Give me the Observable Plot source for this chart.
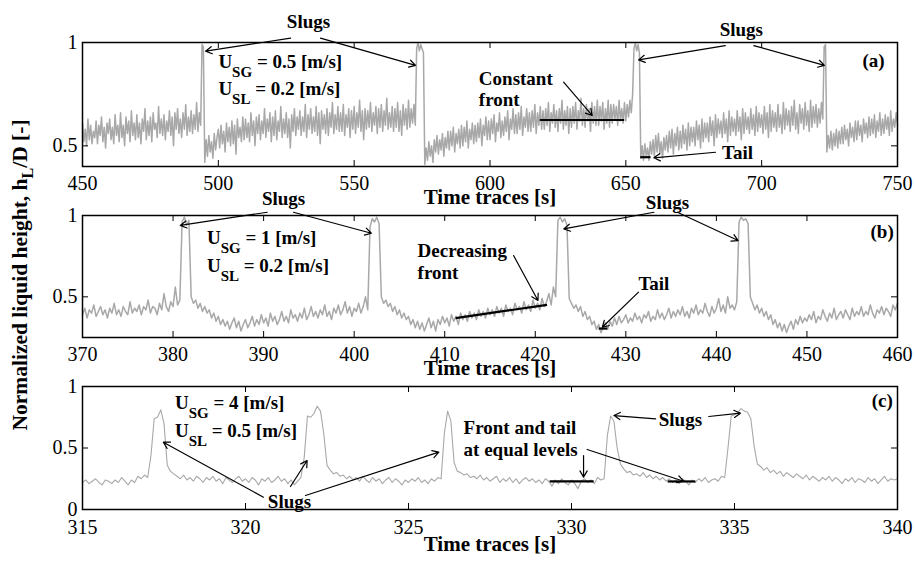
<!DOCTYPE html>
<html>
<head>
<meta charset="utf-8">
<script src="https://cdn.jsdelivr.net/npm/d3@7"></script>
<script src="https://cdn.jsdelivr.net/npm/@observablehq/plot@0.6"></script>
<style>
  body { margin: 0; background: #fff; }
  #chart { position: relative; width: 915px; height: 562px; overflow: hidden; font-family: "Liberation Serif", "DejaVu Serif", serif; }
  #chart svg { position: absolute; left: 0; overflow: visible; }
  #chart svg, #chart svg text, #chart svg tspan { font-family: "Liberation Serif", "DejaVu Serif", serif !important; }
</style>
</head>
<body>
<div id="chart"></div>
<script>
// ---------------- DATA ----------------
// Panel (a): U_SG = 0.5, U_SL = 0.2, samples every 0.5 s from 450 s
const startA = 450, stepA = 0.5;
const valuesA = [
  0.61,0.52,0.58,0.50,0.63,0.53,0.60,0.51,0.57,0.54,
  0.62,0.51,0.60,0.55,0.64,0.52,0.59,0.49,0.61,0.56,
  0.63,0.53,0.59,0.51,0.65,0.55,0.60,0.52,0.66,0.54,
  0.60,0.50,0.64,0.56,0.62,0.52,0.67,0.55,0.61,0.53,
  0.65,0.54,0.61,0.51,0.63,0.57,0.68,0.53,0.62,0.55,
  0.64,0.52,0.66,0.58,0.61,0.54,0.69,0.56,0.63,0.55,
  0.65,0.53,0.62,0.57,0.67,0.55,0.64,0.50,0.66,0.58,
  0.68,0.56,0.63,0.54,0.66,0.58,0.70,0.55,0.64,0.57,
  0.67,0.56,0.65,0.58,0.71,0.57,0.66,0.60,
  0.99,0.98,0.42,
  0.53,0.45,0.55,0.47,0.52,0.44,0.56,0.48,0.54,
  0.58,0.49,0.60,0.51,0.57,0.47,0.61,0.52,0.59,0.50,
  0.62,0.51,0.60,0.46,0.63,0.54,0.59,0.52,0.64,0.53,
  0.63,0.54,0.61,0.52,0.66,0.55,0.62,0.50,0.64,0.56,
  0.65,0.53,0.62,0.56,0.68,0.54,0.63,0.57,0.66,0.52,
  0.64,0.55,0.67,0.53,0.62,0.57,0.69,0.54,0.63,0.56,
  0.66,0.54,0.63,0.49,0.65,0.57,0.68,0.55,0.64,0.58,
  0.67,0.55,0.64,0.57,0.70,0.54,0.65,0.58,0.68,0.56,
  0.64,0.57,0.69,0.55,0.66,0.51,0.67,0.58,0.65,0.56,
  0.68,0.55,0.66,0.59,0.71,0.56,0.65,0.58,0.69,0.57,
  0.66,0.57,0.70,0.55,0.65,0.59,0.68,0.54,0.67,0.58,
  0.69,0.56,0.66,0.59,0.72,0.57,0.67,0.53,0.68,0.58,
  0.67,0.59,0.71,0.57,0.66,0.60,0.69,0.56,0.68,0.59,
  0.70,0.57,0.67,0.60,0.73,0.58,0.66,0.59,0.69,0.57,
  0.68,0.59,0.71,0.57,0.67,0.55,0.70,0.60,0.68,0.58,
  0.72,0.59,0.68,0.61,0.70,0.60,
  0.97,1.00,0.96,0.99,0.97,0.95,
  0.41,0.49,0.43,0.52,0.45,0.50,0.42,0.53,
  0.47,0.55,0.46,0.53,0.48,0.56,0.45,0.54,0.49,0.57,
  0.48,0.57,0.50,0.59,0.47,0.56,0.51,0.58,0.49,0.60,
  0.50,0.59,0.52,0.62,0.49,0.58,0.53,0.61,0.51,0.60,
  0.52,0.61,0.54,0.63,0.50,0.60,0.55,0.64,0.53,0.62,
  0.53,0.63,0.56,0.65,0.52,0.61,0.57,0.66,0.54,0.62,
  0.55,0.64,0.57,0.67,0.53,0.63,0.58,0.68,0.56,0.65,
  0.56,0.66,0.58,0.69,0.55,0.64,0.59,0.68,0.57,0.66,
  0.57,0.67,0.59,0.70,0.56,0.66,0.60,0.69,0.58,0.67,
  0.58,0.68,0.60,0.71,0.57,0.66,0.61,0.70,0.59,0.67,
  0.57,0.68,0.61,0.72,0.58,0.67,0.60,0.69,0.56,0.68,
  0.59,0.69,0.61,0.71,0.58,0.67,0.62,0.73,0.60,0.68,
  0.59,0.70,0.62,0.68,0.57,0.71,0.61,0.69,0.60,0.72,
  0.60,0.69,0.62,0.71,0.58,0.68,0.61,0.72,0.59,0.70,
  0.61,0.70,0.63,0.69,0.60,0.72,0.62,0.68,0.61,0.71,
  0.62,0.70,0.64,0.72,0.66,
  0.75,
  0.97,1.00,0.96,0.99,0.95,
  0.44,0.50,0.43,0.51,0.45,0.49,0.43,0.52,0.46,
  0.53,0.45,0.55,0.47,0.56,0.46,0.52,0.44,0.54,0.48,
  0.55,0.47,0.57,0.49,0.58,0.46,0.56,0.50,0.59,0.48,
  0.57,0.49,0.60,0.51,0.58,0.48,0.61,0.50,0.59,0.52,
  0.59,0.50,0.62,0.53,0.60,0.49,0.63,0.52,0.61,0.54,
  0.61,0.52,0.64,0.55,0.62,0.50,0.65,0.54,0.63,0.56,
  0.62,0.54,0.66,0.56,0.63,0.52,0.67,0.55,0.64,0.57,
  0.63,0.55,0.67,0.57,0.64,0.53,0.68,0.56,0.66,0.58,
  0.64,0.56,0.68,0.58,0.65,0.55,0.69,0.57,0.66,0.59,
  0.65,0.56,0.69,0.58,0.66,0.54,0.70,0.57,0.67,0.59,
  0.66,0.57,0.70,0.59,0.65,0.56,0.71,0.58,0.68,0.60,
  0.67,0.57,0.69,0.60,0.72,0.58,0.66,0.56,0.70,0.61,
  0.68,0.58,0.71,0.60,0.67,0.57,0.72,0.59,0.69,0.61,
  0.70,0.59,0.68,0.61,0.71,0.63,
  0.98,0.99,
  0.47,0.55,0.49,0.57,0.48,0.56,0.50,0.58,0.49,0.57,0.51,0.59,
  0.51,0.60,0.53,0.58,0.50,0.61,0.54,0.59,0.52,0.62,
  0.53,0.62,0.55,0.60,0.52,0.63,0.56,0.61,0.54,0.64,
  0.55,0.63,0.56,0.65,0.54,0.62,0.57,0.66,0.55,0.63,
  0.56,0.65,0.58,0.64,0.55,0.67,0.57,0.63,0.59,0.66,
  0.60
];

// Panel (b): U_SG = 1, U_SL = 0.2, samples every 0.25 s from 370 s
const startB = 370, stepB = 0.25;
const valuesB = [
  0.39,0.43,0.37,0.42,0.40,0.45,0.38,0.41,
  0.44,0.39,0.42,0.37,0.43,0.40,0.46,0.39,
  0.42,0.38,0.44,0.41,0.39,0.47,0.40,0.43,
  0.41,0.45,0.39,0.44,0.42,0.48,0.40,0.44,
  0.43,0.39,0.46,0.42,0.52,0.44,0.41,0.47,
  0.44,0.56,0.45,0.48,0.96,0.99,0.94,0.97,
  0.50,0.46,0.48,0.43,0.46,0.41,0.44,0.40,
  0.42,0.37,0.40,0.35,0.38,0.33,0.36,0.32,
  0.35,0.30,0.34,0.37,0.31,0.35,0.29,0.33,
  0.36,0.31,0.34,0.38,0.32,0.36,0.33,0.39,
  0.34,0.37,0.32,0.40,0.35,0.38,0.33,0.36,
  0.41,0.35,0.38,0.34,0.42,0.37,0.39,0.35,
  0.40,0.37,0.43,0.36,0.39,0.44,0.38,0.41,
  0.37,0.42,0.39,0.45,0.38,0.41,0.36,0.43,
  0.40,0.45,0.39,0.42,0.47,0.40,0.44,0.38,
  0.43,0.41,0.46,0.40,0.44,0.50,0.42,0.93,
  0.98,0.96,0.99,0.95,0.50,0.46,0.48,0.44,
  0.46,0.41,0.44,0.39,0.42,0.37,0.40,0.36,
  0.38,0.33,0.36,0.31,0.35,0.30,0.34,0.29,
  0.33,0.37,0.31,0.35,0.29,0.36,0.33,0.38,
  0.34,0.37,0.32,0.39,0.35,0.38,0.33,0.40,
  0.36,0.39,0.35,0.41,0.37,0.40,0.36,0.42,
  0.38,0.41,0.37,0.43,0.39,0.42,0.38,0.44,
  0.40,0.43,0.38,0.45,0.41,0.43,0.39,0.46,
  0.42,0.44,0.40,0.47,0.42,0.45,0.41,0.48,
  0.43,0.46,0.42,0.49,0.44,0.47,0.52,0.45,
  0.56,0.50,0.97,0.99,0.96,0.98,0.94,0.49,
  0.46,0.43,0.45,0.41,0.44,0.38,0.41,0.36,
  0.38,0.33,0.35,0.30,0.33,0.28,0.31,0.34,
  0.30,0.35,0.32,0.37,0.33,0.38,0.34,0.36,
  0.39,0.34,0.37,0.35,0.40,0.36,0.38,0.34,
  0.39,0.37,0.41,0.35,0.38,0.36,0.42,0.37,
  0.40,0.36,0.39,0.43,0.37,0.41,0.38,0.42,
  0.39,0.44,0.38,0.41,0.37,0.43,0.40,0.45,
  0.39,0.42,0.40,0.46,0.41,0.38,0.44,0.40,
  0.43,0.49,0.41,0.45,0.40,0.50,0.43,0.45,
  0.42,0.47,0.96,0.99,0.97,0.98,0.95,0.50,
  0.46,0.42,0.45,0.40,0.43,0.38,0.41,0.36,
  0.39,0.33,0.36,0.31,0.34,0.29,0.33,0.28,
  0.32,0.35,0.30,0.36,0.33,0.38,0.34,0.37,
  0.35,0.39,0.36,0.41,0.34,0.38,0.36,0.42,
  0.38,0.35,0.40,0.37,0.43,0.36,0.39,0.41,
  0.37,0.42,0.39,0.36,0.43,0.38,0.41,0.39,
  0.44,0.38,0.41,0.39,0.45,0.40,0.37,0.42,
  0.40,0.44,0.39,0.43,0.41,0.38,0.45,0.42,
  0.46
];

// Panel (c): U_SG = 4, U_SL = 0.5, samples every 0.1 s from 315 s
const startC = 315, stepC = 0.1;
const valuesC = [
  0.22,0.24,0.21,0.23,0.25,0.22,0.20,0.24,0.23,0.21,
  0.24,0.22,0.26,0.23,0.20,0.24,0.22,0.27,0.25,0.28,
  0.26,0.44,0.74,0.75,0.81,0.70,0.36,0.31,0.29,0.27,
  0.25,0.28,0.24,0.26,0.23,0.27,0.25,0.22,0.26,0.24,
  0.27,0.23,0.25,0.21,0.26,0.24,0.22,0.25,0.27,0.23,
  0.25,0.22,0.26,0.24,0.20,0.25,0.23,0.26,0.22,0.24,
  0.27,0.23,0.25,0.21,0.24,0.20,0.23,0.26,0.42,0.76,
  0.75,0.78,0.84,0.80,0.62,0.36,0.32,0.29,0.30,0.27,
  0.28,0.25,0.27,0.24,0.26,0.23,0.27,0.24,0.22,0.26,
  0.23,0.25,0.21,0.24,0.26,0.22,0.25,0.23,0.20,0.24,
  0.22,0.25,0.23,0.26,0.22,0.24,0.21,0.25,0.23,0.26,
  0.25,0.62,0.80,0.72,0.38,0.31,0.30,0.28,0.29,0.26,
  0.27,0.25,0.28,0.24,0.26,0.23,0.25,0.27,0.22,0.25,
  0.23,0.26,0.22,0.25,0.21,0.24,0.26,0.23,0.25,0.22,
  0.24,0.21,0.25,0.23,0.19,0.24,0.21,0.25,0.22,0.20,
  0.24,0.21,0.17,0.23,0.25,0.22,0.24,0.21,0.26,0.24,
  0.25,0.60,0.76,0.72,0.50,0.37,0.33,0.30,0.31,0.28,
  0.29,0.27,0.30,0.26,0.28,0.25,0.27,0.24,0.26,0.23,
  0.25,0.22,0.24,0.21,0.25,0.23,0.20,0.24,0.22,0.25,
  0.23,0.26,0.22,0.24,0.25,0.23,0.27,0.26,0.50,0.76,
  0.77,0.79,0.82,0.80,0.79,0.74,0.52,0.37,0.35,0.32,
  0.34,0.30,0.32,0.29,0.31,0.27,0.30,0.28,0.26,0.29,
  0.27,0.25,0.28,0.24,0.27,0.25,0.23,0.26,0.24,0.27,
  0.23,0.26,0.24,0.21,0.25,0.23,0.26,0.22,0.25,0.24,
  0.22,0.26,0.23,0.25,0.21,0.24,0.27,0.23,0.25,0.24,
  0.25
];

// Axis ticks
const xTicksA = [450, 500, 550, 600, 650, 700, 750];
const yTicksA = [0.5, 1];
const xTicksB = [370, 380, 390, 400, 410, 420, 430, 440, 450, 460];
const yTicksB = [0.5, 1];
const xTicksC = [315, 320, 325, 330, 335, 340];
const yTicksC = [0, 0.5, 1];

// Annotations (data coordinates: time, normalized height)
const labelsA = [
  {t: 533.2, v: 1.106, text: "Slugs", anchor: "middle"},
  {t: 692.5, v: 1.063, text: "Slugs", anchor: "middle"},
  {t: 595.9, v: 0.777, text: "Constant\nfront", anchor: "start"},
  {t: 685.4, v: 0.469, text: "Tail", anchor: "start"},
  {t: 741.2, v: 0.913, text: "(a)", anchor: "middle"}
];
const arrowsA = [
  {t1: 526.6, v1: 1.021, t2: 495.3, v2: 0.958},
  {t1: 537.6, v1: 1.021, t2: 572.6, v2: 0.889},
  {t1: 686.6, v1: 0.985, t2: 654.7, v2: 0.916},
  {t1: 697.1, v1: 0.985, t2: 723.1, v2: 0.889},
  {t1: 627.1, v1: 0.808, t2: 637.6, v2: 0.647},
  {t1: 683.0, v1: 0.469, t2: 660.3, v2: 0.442}
];
const levelsA = [
  {t1: 618.3, v1: 0.625, t2: 649.4, v2: 0.625},
  {t1: 655.3, v1: 0.445, t2: 659.1, v2: 0.445}
];
const velocitiesA = [
  {t: 500.2, v: 0.873, main: "U", sub: "SG", rest: " = 0.5 [m/s]"},
  {t: 500.2, v: 0.744, main: "U", sub: "SL", rest: " = 0.2 [m/s]"}
];

const labelsB = [
  {t: 392.2, v: 1.109, text: "Slugs", anchor: "middle"},
  {t: 434.6, v: 1.086, text: "Slugs", anchor: "middle"},
  {t: 407.0, v: 0.720, text: "Decreasing\nfront", anchor: "start"},
  {t: 433.1, v: 0.585, text: "Tail", anchor: "middle"},
  {t: 458.3, v: 0.902, text: "(b)", anchor: "middle"}
];
const arrowsB = [
  {t1: 390.4, v1: 1.020, t2: 380.8, v2: 0.939},
  {t1: 393.3, v1: 1.020, t2: 401.9, v2: 0.891},
  {t1: 433.1, v1: 1.020, t2: 423.15, v2: 0.918},
  {t1: 435.7, v1: 1.020, t2: 442.4, v2: 0.846},
  {t1: 417.6, v1: 0.754, t2: 420.3, v2: 0.478},
  {t1: 431.4, v1: 0.529, t2: 427.4, v2: 0.313}
];
const levelsB = [
  {t1: 411.2, v1: 0.369, t2: 421.3, v2: 0.451},
  {t1: 427.0, v1: 0.305, t2: 427.95, v2: 0.305}
];
const velocitiesB = [
  {t: 383.8, v: 0.824, main: "U", sub: "SG", rest: " = 1 [m/s]"},
  {t: 383.8, v: 0.650, main: "U", sub: "SL", rest: " = 0.2 [m/s]"}
];

const labelsC = [
  {t: 321.35, v: 0.069, text: "Slugs", anchor: "middle"},
  {t: 326.69, v: 0.582, text: "Front and tail\nat equal levels", anchor: "start"},
  {t: 333.34, v: 0.732, text: "Slugs", anchor: "middle"},
  {t: 339.53, v: 0.892, text: "(c)", anchor: "middle"}
];
const arrowsC = [
  {t1: 320.55, v1: 0.100, t2: 317.48, v2: 0.547},
  {t1: 321.38, v1: 0.187, t2: 321.89, v2: 0.398},
  {t1: 321.84, v1: 0.114, t2: 325.93, v2: 0.466},
  {t1: 330.37, v1: 0.439, t2: 330.37, v2: 0.263},
  {t1: 330.48, v1: 0.488, t2: 333.44, v2: 0.230},
  {t1: 332.58, v1: 0.737, t2: 331.30, v2: 0.764},
  {t1: 334.21, v1: 0.756, t2: 335.18, v2: 0.783}
];
const levelsC = [
  {t1: 329.33, v1: 0.228, t2: 330.68, v2: 0.228},
  {t1: 332.95, v1: 0.228, t2: 333.80, v2: 0.228}
];
const velocitiesC = [
  {t: 317.85, v: 0.811, main: "U", sub: "SG", rest: " = 4 [m/s]"},
  {t: 317.85, v: 0.583, main: "U", sub: "SL", rest: " = 0.5 [m/s]"}
];

const xTitle = "Time traces [s]";
const yTitleMain = "Normalized liquid height, h";
const yTitleSub = "L";
const yTitleRest = "/D [-]";

// ---------------- DRAWING ----------------
const FONT = '"Liberation Serif", "DejaVu Serif", serif';
const W = 915, ML = 82, MR = 18;
const chart = document.getElementById("chart");

function series(start, step, values) {
  return values.map((v, i) => ({t: start + i * step, v}));
}

const panels = [
  {top: 0,   mt: 42, area: 124, mb: 44, xd: [450, 750], yd: [0.4, 1], xt: xTicksA, yt: yTicksA, sw: 1.5,
   data: series(startA, stepA, valuesA), labels: labelsA, arrows: arrowsA, levels: levelsA, vel: velocitiesA, titleDy: 37, pad: 9},
  {top: 173, mt: 42, area: 122, mb: 45, xd: [370, 460], yd: [0.25, 1], xt: xTicksB, yt: yTicksB, sw: 1.5,
   data: series(startB, stepB, valuesB), labels: labelsB, arrows: arrowsB, levels: levelsB, vel: velocitiesB, titleDy: 37, pad: 9},
  {top: 344, mt: 42, area: 123, mb: 53, xd: [315, 340], yd: [0, 1], xt: xTicksC, yt: yTicksC, sw: 1.1,
   data: series(startC, stepC, valuesC), labels: labelsC, arrows: arrowsC, levels: levelsC, vel: velocitiesC, titleDy: 41, pad: 10}
];

for (const p of panels) {
  const H = p.mt + p.area + p.mb;
  const innerW = W - ML - MR;
  const tick = 6;
  const svg = Plot.plot({
    width: W, height: H,
    marginLeft: ML, marginRight: MR, marginTop: p.mt, marginBottom: p.mb,
    style: {fontFamily: FONT, fontSize: "20px", background: "transparent", color: "black", overflow: "visible"},
    x: {domain: p.xd},
    y: {domain: p.yd},
    marks: [
      Plot.line(p.data, {x: "t", y: "v", stroke: "#a8a8a8", strokeWidth: p.sw}),
      Plot.link(p.levels, {x1: "t1", y1: "v1", x2: "t2", y2: "v2", stroke: "black", strokeWidth: 2.2}),
      Plot.ruleX(p.xt, {x: d => d, insetTop: p.area - tick, stroke: "black", strokeWidth: 1}),
      Plot.ruleX(p.xt, {x: d => d, insetBottom: p.area - tick, stroke: "black", strokeWidth: 1}),
      Plot.ruleY(p.yt, {y: d => d, insetRight: innerW - tick, stroke: "black", strokeWidth: 1}),
      Plot.ruleY(p.yt, {y: d => d, insetLeft: innerW - tick, stroke: "black", strokeWidth: 1}),
      Plot.frame({stroke: "black", strokeWidth: 1.5}),
      Plot.axisX(p.xt, {anchor: "bottom", tickSize: 0, tickPadding: p.pad, label: null, fontSize: 20, tickFormat: d => String(d)}),
      Plot.axisY(p.yt, {anchor: "left", tickSize: 0, tickPadding: 5, label: null, fontSize: 20, tickFormat: d => String(d)}),
      Plot.text([xTitle], {frameAnchor: "bottom", dy: p.titleDy, text: d => d, fontWeight: "bold", fontSize: 21}),
      Plot.arrow(p.arrows, {x1: "t1", y1: "v1", x2: "t2", y2: "v2", stroke: "black", strokeWidth: 1.2, headLength: 9, clip: false}),
      Plot.text(p.labels.filter(d => d.anchor === "middle"), {x: "t", y: "v", text: "text", textAnchor: "middle", fontWeight: "bold", fontSize: 19, lineHeight: 1.15, clip: false}),
      Plot.text(p.labels.filter(d => d.anchor === "start"), {x: "t", y: "v", text: "text", textAnchor: "start", fontWeight: "bold", fontSize: 19, lineHeight: 1.15, clip: false})
    ]
  });
  // Velocity labels with subscripts, placed through the plot's scales
  const sx = svg.scale("x"), sy = svg.scale("y");
  const g = d3.select(svg).append("g")
    .attr("font-family", FONT).attr("font-weight", "bold").attr("font-size", 19)
    .attr("fill", "black").attr("text-anchor", "start");
  for (const d of p.vel) {
    const t = g.append("text").attr("x", sx.apply(d.t)).attr("y", sy.apply(d.v));
    t.append("tspan").text(d.main);
    t.append("tspan").attr("font-size", 15).attr("dy", 9).text(d.sub);
    t.append("tspan").attr("dy", -9).text(d.rest.replace(/ /g, "\u00a0"));
  }
  svg.style.top = p.top + "px";
  chart.appendChild(svg);
}

// Shared y-axis title
const overlay = d3.select(chart).append("svg")
  .attr("width", W).attr("height", 562).style("top", "0px").style("pointer-events", "none");
const yt = overlay.append("text")
  .attr("transform", "translate(27,275) rotate(-90)")
  .attr("text-anchor", "middle")
  .attr("font-family", FONT).attr("font-weight", "bold").attr("font-size", 21.5).attr("fill", "black");
yt.append("tspan").text(yTitleMain);
yt.append("tspan").attr("font-size", 16).attr("dy", 6).text(yTitleSub);
yt.append("tspan").attr("dy", -6).text(yTitleRest);
</script>
</body>
</html>
